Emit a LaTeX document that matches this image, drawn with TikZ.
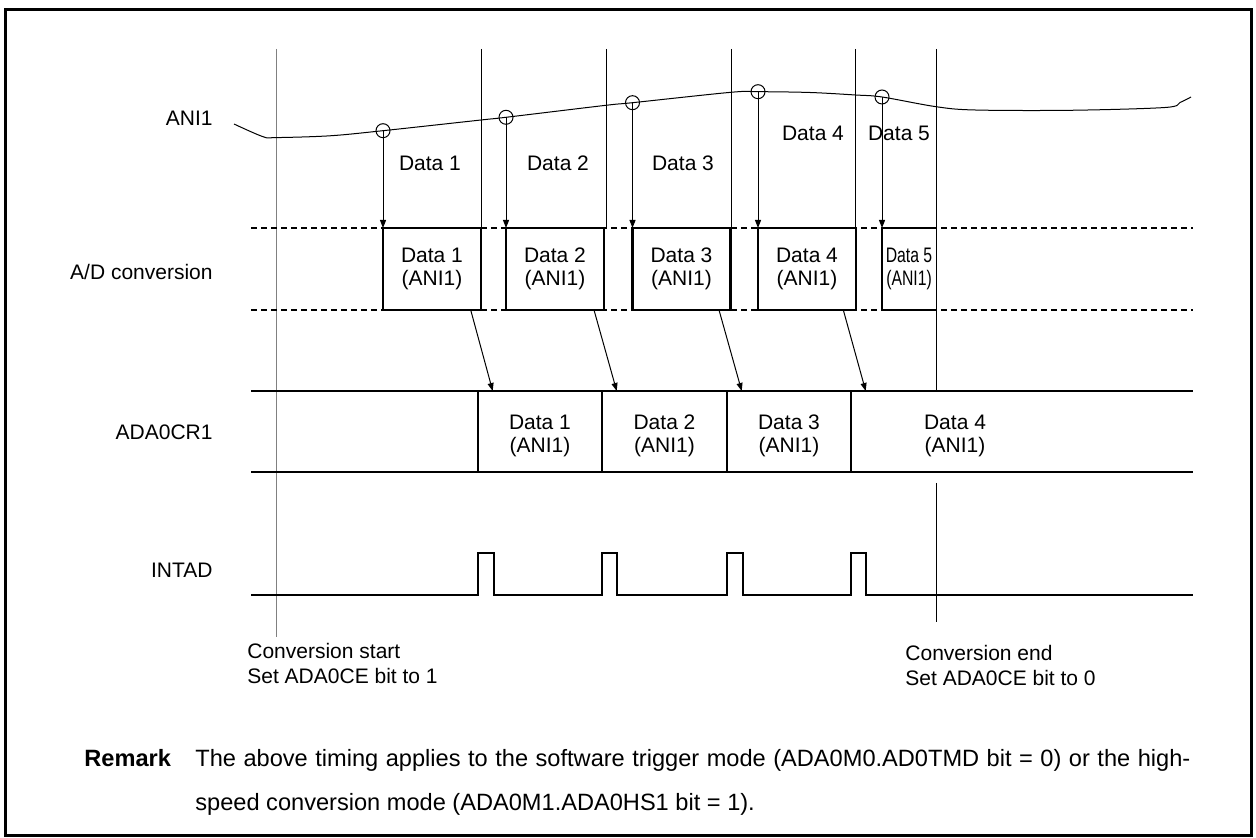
\documentclass[tikz,border=0pt]{standalone}
\usepackage{fontspec}
\setmainfont{Liberation Sans}
\usetikzlibrary{arrows.meta}
\begin{document}
\begin{tikzpicture}[x=0.5pt,y=-0.5pt,
  thinln/.style={line width=0.5pt},
  bus/.style={line width=1.1pt},
  dashbus/.style={line width=1.1pt, dash pattern=on 2.75pt off 2.25pt},
  lbl/.style={font=\fontsize{10.5}{11.7}\selectfont, inner sep=0pt, align=center},
  sig/.style={font=\fontsize{10.5}{11.7}\selectfont, inner sep=0pt, anchor=east},
  adbox/.style={draw, line width=1.1pt, minimum width=49pt, minimum height=41pt, anchor=north west, inner sep=0pt, outer sep=0pt, align=center, font=\fontsize{10.5}{11.7}\selectfont},
  sample/.style={circle, draw, line width=0.5pt, minimum size=7pt, inner sep=0pt},
  arr/.style={line width=0.5pt, -{Triangle[length=4pt,width=3pt]}},
  note/.style={font=\fontsize{10.5}{12.5}\selectfont, inner sep=0pt, anchor=north west, align=left},
]
\useasboundingbox (0,0) rectangle (1256,838);
\draw[line width=1.5pt] (5,10) rectangle (1251,835);

% signal labels
\node[sig] (lani) at (213,118) {ANI1};
\node[sig] (lad) at (213,272) {A/D conversion};
\node[sig] (lcr) at (213,432) {ADA0CR1};
\node[sig] (lint) at (213,570) {INTAD};

% vertical timing lines
\draw[thinln, gray] (276,49) -- (276,637);
\draw[thinln] (481,49) -- (481,228);
\draw[thinln] (606,49) -- (606,228);
\draw[thinln] (731,49) -- (731,228);
\draw[thinln] (855.5,49) -- (855.5,228);
\draw[thinln] (936,49) -- (936,391);
\draw[thinln] (936,483) -- (936,622);

% analog input curve
\draw[thinln] plot[smooth, tension=0.55] coordinates {(234,124) (263,136.7) (276,137.6) (330,135.8) (383,130.7) (481,120) (506,117.3) (606,105.3) (632.5,102.7) (731,92.3) (758,91.7) (810,92.5) (855.5,95) (882,97) (936,106.7) (975,110) (1070,110.3) (1165,107.5) (1180,102.5) (1191,97)};

% sample points
\node[sample] (s1) at (383,130.7) {};
\node[sample] (s2) at (506,117.3) {};
\node[sample] (s3) at (632.5,102.7) {};
\node[sample] (s4) at (758,91.7) {};
\node[sample] (s5) at (882,97) {};

% data labels above
\node[lbl] (d1) at (430,163) {Data 1};
\node[lbl] (d2) at (558,163) {Data 2};
\node[lbl] (d3) at (683,163) {Data 3};
\node[lbl] (d4) at (813,133) {Data 4};
\node[lbl] (d5) at (899,133) {Data 5};

% A/D conversion dashed rails
\draw[dashbus] (251,228) -- (1193,228);
\draw[dashbus] (251,310) -- (1193,310);

% conversion boxes
\node[adbox, fill=white] (b1) at (383,228) {Data 1\\(ANI1)};
\node[adbox, fill=white] (b2) at (506,228) {Data 2\\(ANI1)};
\node[adbox, fill=white] (b3) at (632.5,228) {Data 3\\(ANI1)};
\node[adbox, fill=white] (b4) at (758,228) {Data 4\\(ANI1)};
\node[adbox, draw=none, fill=white, minimum width=27pt] (b5) at (882,228) {\scalebox{0.75}[1]{Data 5}\\\scalebox{0.75}[1]{(ANI1)}};
\draw[bus] (b5.north east) -- (b5.north west) -- (b5.south west) -- (b5.south east);
\draw[thinln] (936,228) -- (936,310);

% sampling arrows
\draw[arr] (s1.center) -- (b1.north west);
\draw[arr] (s2.center) -- (b2.north west);
\draw[arr] (s3.center) -- (b3.north west);
\draw[arr] (s4.center) -- (b4.north west);
\draw[arr] (s5.center) -- (b5.north west);

% ADA0CR1 register
\draw[bus] (251,391) -- (1193,391);
\draw[bus] (251,472) -- (1193,472);
\draw[bus] (478.3,391) -- (478.3,472);
\draw[bus] (602.3,391) -- (602.3,472);
\draw[bus] (727,391) -- (727,472);
\draw[bus] (851,391) -- (851,472);
\node[lbl] (r1) at (540,436) {Data 1\\(ANI1)};
\node[lbl] (r2) at (664.5,436) {Data 2\\(ANI1)};
\node[lbl] (r3) at (789,436) {Data 3\\(ANI1)};
\node[lbl] (r4) at (955,436) {Data 4\\(ANI1)};

% transfer arrows
\coordinate (t1) at (470.7,310); \coordinate (u1) at (492.7,391);
\coordinate (t2) at (594,310);   \coordinate (u2) at (616.7,391);
\coordinate (t3) at (719,310);   \coordinate (u3) at (741.7,391);
\coordinate (t4) at (843.3,310); \coordinate (u4) at (865.7,391);
\draw[arr] (t1) -- (u1);
\draw[arr] (t2) -- (u2);
\draw[arr] (t3) -- (u3);
\draw[arr] (t4) -- (u4);

% INTAD
\draw[bus] (251,595) -- (478.3,595) -- (478.3,552.7) -- (494,552.7) -- (494,595)
  -- (601.7,595) -- (601.7,552.7) -- (617.3,552.7) -- (617.3,595)
  -- (727.3,595) -- (727.3,552.7) -- (742.7,552.7) -- (742.7,595)
  -- (850.7,595) -- (850.7,552.7) -- (865.7,552.7) -- (865.7,595) -- (1193,595);

% bottom notes
\node[note] (cs) at (247,642.5) {Conversion start\\Set ADA0CE bit to 1};
\node[note] (ce) at (905,644.5) {Conversion end\\Set ADA0CE bit to 0};

% remark
\node[anchor=base west, inner sep=0pt, font=\fontsize{11.8}{22}\selectfont\bfseries] (rmk) at (84,766.5) {Remark};
\node[anchor=base west, inner sep=0pt, font=\fontsize{11.8}{22}\selectfont] (rtxt) at (195,766.5) {\parbox[t]{497.5pt}{\hyphenpenalty=10000 The above timing applies to the software trigger mode (ADA0M0.AD0TMD bit = 0) or the high-\linebreak speed conversion mode (ADA0M1.ADA0HS1 bit = 1).}};
\end{tikzpicture}
\end{document}
